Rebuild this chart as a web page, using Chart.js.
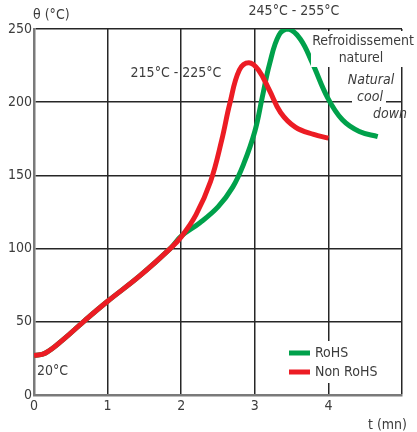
<!DOCTYPE html>
<html lang="fr">
  <head>
    <meta charset="UTF-8" />
    <title>Profil de soudure</title>
    <script src="https://cdn.jsdelivr.net/npm/chart.js"></script>
    <style>
      html, body { margin: 0; padding: 0; background: #fff; }
      #wrap { width: 417px; height: 432px; }
    </style>
  </head>
  <body>
    <div id="wrap"><canvas id="profil" width="417" height="432"></canvas></div>

    <script>
      // Données (t en minutes, θ en °C)
      const tRohs = [0, 0.15, 0.4, 0.67, 1.0, 1.44, 1.85, 2.0, 2.25, 2.5, 2.7, 2.85, 3.0, 3.1, 3.2, 3.33, 3.46, 3.62, 3.78, 3.99, 4.19, 4.42, 4.67];
      const vRohs = [27, 28.5, 38, 50, 64, 81.5, 100, 108.5, 117.5, 128.5, 142, 158, 180, 203, 226, 246, 250, 243, 227, 203, 188, 180, 176.5];

      const tNonRohs = [0, 0.15, 0.4, 0.67, 1.0, 1.44, 1.85, 2.0, 2.2, 2.4, 2.55, 2.66, 2.79, 2.92, 3.05, 3.2, 3.35, 3.55, 3.8, 4.0];
      const vNonRohs = [27, 28.5, 38, 50, 64, 81.5, 100, 108, 123, 146, 174, 199, 222, 227, 222, 208, 193, 183, 178, 175.5];

      const yTicks = [0, 50, 100, 150, 200, 250];
      const xTicks = [0, 1, 2, 3, 4];

      const police = "'DejaVu Sans Condensed', 'DejaVu Sans', sans-serif";
      const gris = "#3c3c3c";

      function points(ts, vs) {
        return ts.map((t, i) => ({ x: t, y: vs[i] }));
      }

      // Textes posés sur le graphique
      const annotations = {
        id: "annotations",
        afterDraw(chart) {
          const c = chart.ctx;
          c.save();
          c.fillStyle = "#fff";
          // fonds blancs (coupent les lignes de grille)
          c.fillRect(311, 31, 104, 36);
          c.fillRect(352, 90, 34, 16);
          c.fillRect(286, 341, 100, 42);

          c.fillStyle = gris;
          c.textBaseline = "middle";
          c.font = "14px " + police;
          c.textAlign = "left";
          c.fillText("θ (°C)", 33, 15);
          c.fillText("20°C", 37, 371);
          c.fillText("t (mn)", 368, 425);
          c.textAlign = "center";
          c.fillText("215°C - 225°C", 176, 73);
          c.fillText("245°C - 255°C", 294, 11);
          c.fillText("Refroidissement", 363, 41);
          c.fillText("naturel", 361, 58);
          c.font = "italic 14px " + police;
          c.fillText("Natural", 371, 80);
          c.fillText("cool", 370, 97);
          c.fillText("down", 390, 114);

          // légende
          c.textAlign = "left";
          c.font = "14px " + police;
          chart.data.datasets.forEach((ds, i) => {
            const y = 353 + i * 19;
            c.strokeStyle = ds.borderColor;
            c.lineWidth = 5;
            c.beginPath();
            c.moveTo(289, y);
            c.lineTo(310, y);
            c.stroke();
            c.fillText(ds.label, 315, y);
          });
          c.restore();
        },
      };

      const ctx = document.getElementById("profil").getContext("2d");
      new Chart(ctx, {
        type: "line",
        data: {
          datasets: [
            {
              label: "RoHS",
              data: points(tRohs, vRohs),
              borderColor: "#00a14b",
              borderWidth: 5,
              pointRadius: 0,
              tension: 0.4,
              order: 1,
            },
            {
              label: "Non RoHS",
              data: points(tNonRohs, vNonRohs),
              borderColor: "#ec1c24",
              borderWidth: 5,
              pointRadius: 0,
              tension: 0.4,
              order: 0,
            },
          ],
        },
        options: {
          responsive: false,
          animation: false,
          layout: { padding: { top: 29, right: 15, left: 0, bottom: 0 } },
          plugins: { legend: { display: false }, tooltip: { enabled: false } },
          scales: {
            x: {
              type: "linear",
              min: 0,
              max: 5,
              afterBuildTicks: (s) => { s.ticks = [...xTicks, 5].map((v) => ({ value: v })); },
              afterFit: (s) => { s.height = 37; },
              grid: { color: "#262626", lineWidth: 1.5, drawTicks: false },
              border: { color: "#7a7a7a", width: 2.5 },
              ticks: {
                padding: 3,
                color: gris,
                font: { family: police, size: 14 },
                callback: (v) => (xTicks.includes(v) ? String(v) : ""),
              },
            },
            y: {
              min: 0,
              max: 250,
              afterBuildTicks: (s) => { s.ticks = yTicks.map((v) => ({ value: v })); },
              afterFit: (s) => { s.width = 34; },
              grid: { color: "#262626", lineWidth: 1.5, drawTicks: false },
              border: { color: "#7a7a7a", width: 2.5 },
              ticks: {
                padding: 2,
                color: gris,
                font: { family: police, size: 14 },
              },
            },
          },
        },
        plugins: [annotations],
      });
    </script>
  </body>
</html>
